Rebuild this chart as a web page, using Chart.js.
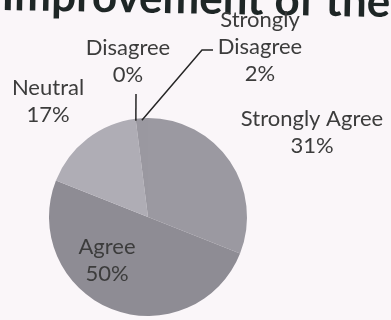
<!DOCTYPE html>
<html>
<head>
<meta charset="utf-8">
<script src="https://cdn.jsdelivr.net/npm/chart.js@4.4.1/dist/chart.umd.min.js"></script>
<style>
  html, body { margin: 0; padding: 0; background: #faf6f9; }
  canvas { display: block; }
</style>
</head>
<body>
<canvas id="pieChart" width="391" height="320"></canvas>
<script>
const categories = ['Strongly Agree', 'Agree', 'Neutral', 'Disagree', 'Strongly Disagree']
const percents = [31, 50, 17, 0, 2]
const sliceColors = ['#9b99a1', '#8e8c94', '#afadb5', '#a4a2aa', '#9a98a0']
const titleText = 'Improvement of the'

// where each data label sits (centre x, first baseline y) and its leader points
const labelSpots = [
    { x: 312, y: 126, wrap: false },
    { x: 107, y: 254, wrap: false },
    { x: 48, y: 95, wrap: false },
    { x: 128, y: 55, wrap: false, leader: [[136, 94]] },
    { x: 260, y: 27, wrap: true, leader: [[213, 50], [202, 50]] },
]

const ctx = document.getElementById('pieChart').getContext('2d')

const labelsPlugin = {
    id: 'pieLabels',
    afterDraw(chart) {
        const c = chart.ctx
        const arcs = chart.getDatasetMeta(0).data
        c.save()

        // title, partly cut off at the top and a bit tilted like the scan
        c.save()
        c.translate(390, 17)
        c.rotate(0.018)
        c.font = 'bold 44px Lato'
        c.fillStyle = '#1e2626'
        c.textAlign = 'right'
        c.textBaseline = 'alphabetic'
        c.fillText(titleText, 0, 0)
        c.restore()

        // leader lines
        c.strokeStyle = '#262626'
        c.lineWidth = 1.5
        labelSpots.forEach((s, i) => {
            if (!s.leader) return
            const a = arcs[i]
            const mid = (a.startAngle + a.endAngle) / 2
            const ex = a.x + Math.cos(mid) * (a.outerRadius - 2)
            const ey = a.y + Math.sin(mid) * (a.outerRadius - 2)
            c.beginPath()
            c.moveTo(s.leader[0][0], s.leader[0][1])
            s.leader.slice(1).forEach(p => c.lineTo(p[0], p[1]))
            c.lineTo(ex, ey)
            c.stroke()
        })

        // category + percent text
        c.font = '22px Lato'
        c.fillStyle = '#3c3c3c'
        c.textAlign = 'center'
        c.textBaseline = 'alphabetic'
        labelSpots.forEach((s, i) => {
            const lines = s.wrap ? categories[i].split(' ') : [categories[i]]
            lines.push(percents[i] + '%')
            lines.forEach((t, k) => c.fillText(t, s.x, s.y + k * 27))
        })
        c.restore()
    }
}

const data = {
    labels: categories,
    datasets: [{
        data: percents,
        backgroundColor: sliceColors,
        borderWidth: 0,
    }],
}

const config = {
    type: 'pie',
    data: data,
    options: {
        responsive: false,
        animation: false,
        layout: { padding: { left: 49, top: 118, right: 144, bottom: 4 } },
        plugins: {
            legend: { display: false },
            tooltip: { enabled: false },
        },
    },
    plugins: [labelsPlugin],
}

const myChart = new Chart(ctx, config)
</script>
</body>
</html>
